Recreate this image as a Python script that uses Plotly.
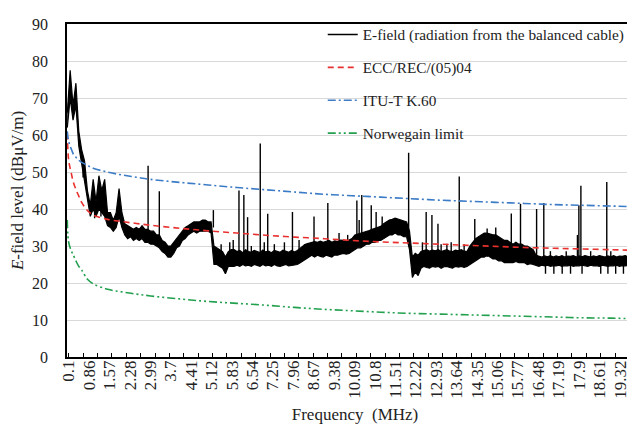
import plotly.graph_objects as go

# ---------------- data ----------------
# E-field measured level (dBuV/m): lower and upper edge of the noisy trace,
# read every 0.1 MHz from 0.1 to 20.0 MHz
EFIELD_LO = [
    62, 70, 64, 68, 57, 52, 48, 42, 38, 40,
    38, 40, 39, 38, 35.5, 35, 34, 35, 38, 35,
    33, 32, 32.5, 31.5, 32, 31.5, 32, 31, 31, 30.5,
    30.5, 30, 29.5, 28.5, 28, 27, 27, 28, 29.5, 30,
    31.5, 32, 33, 33.5, 34, 33.5, 34, 34, 34, 34,
    33.5, 25, 25, 24.5, 24, 22.5, 24.5, 24.5, 24.5, 24.8,
    24.5, 25, 24.6, 24.8, 24.5, 25, 24.7, 24.5, 25, 24.6,
    24.8, 24.5, 25, 24.6, 24.5, 24.8, 25, 24.6, 24.7, 25,
    25, 25.5, 26, 26.5, 27, 27.5, 27, 27.5, 27.2, 27,
    27.5, 27.3, 27, 27.6, 27.5, 27.8, 28, 27.8, 28, 28.5,
    29, 29.5, 29.5, 30, 30.5, 30.5, 31, 31, 31.5, 31.5,
    32, 32.5, 33, 33, 33.5, 33, 33, 32.5, 32.5, 29,
    21.5, 23, 22, 24, 24.5, 24.2, 24, 24.5, 24.3, 24.5,
    24, 24.4, 24.5, 24.2, 24, 24.5, 24.3, 24.5, 24.2, 24.5,
    25, 25.5, 26, 26.5, 27, 27, 27.5, 27, 26.5, 26.5,
    26, 26, 25.5, 25.5, 25.5, 25.5, 25.8, 25.5, 25.5, 25.5,
    25, 25.2, 25, 24.8, 24.5, 24.8, 24.6, 24.8, 24.5, 24.7,
    24.6, 24.8, 24.5, 24.7, 24.6, 24.8, 24.5, 24.7, 24.6, 24.8,
    24.7, 24.5, 24.8, 24.6, 24.7, 24.5, 24.8, 24.6, 24.5, 24.7,
    24.6, 24.8, 24.5, 24.7, 24.6, 24.8, 24.5, 24.7, 24.6, 24.8,
]
EFIELD_HI = [
    66, 77.5, 68, 74, 61, 56, 53, 45, 41, 48,
    42, 49, 45, 48, 39, 39, 37, 39, 45.5, 39,
    36, 35.5, 35, 34.5, 35, 34.5, 35.5, 34.5, 34.5, 34,
    34, 33, 33, 31.5, 31, 30, 30, 31, 32, 33,
    34, 35, 35.5, 36, 36.5, 36.5, 36.5, 37, 37, 36.5,
    36.5, 30, 29.5, 29, 28.5, 27, 28.5, 29, 29, 28.5,
    28.8, 28.2, 29, 28.5, 28.3, 28.8, 28.5, 28.2, 28.9, 28.4,
    28.6, 28.2, 28.8, 28.5, 28.3, 28.9, 28.6, 28.3, 28.8, 28.4,
    28.8, 29.5, 30, 30.5, 30.8, 31, 31.2, 31, 31.3, 31,
    31.2, 31.5, 31, 31.4, 31.2, 31.6, 31.5, 31.3, 31.6, 32,
    33, 33.2, 33.5, 33.8, 34, 34.2, 34.5, 34.8, 35, 35.3,
    36, 36.5, 37, 37.2, 37.5, 37.3, 37, 36.8, 36.5, 34,
    27, 28, 27.5, 28.5, 28.8, 29, 28.6, 28.9, 28.7, 29,
    28.5, 28.8, 29, 28.6, 28.5, 28.9, 28.7, 29, 28.6, 28.5,
    30, 31, 32, 32.5, 33, 33.5, 33.5, 33.2, 33, 33,
    32.5, 32, 31.5, 31.5, 31, 30.5, 31, 30.5, 30.5, 30,
    30, 29.5, 29, 27.5, 27.2, 27, 27.3, 27.1, 27.4, 27,
    27.3, 27.1, 27.4, 27, 27.3, 27.2, 27.4, 27, 27.3, 27.1,
    27.4, 27.2, 27, 27.3, 27.1, 27.4, 27.2, 27, 27.3, 27.1,
    27.4, 27, 27.3, 27.2, 27.4, 27.1, 27.3, 27, 27.2, 27.3,
]
FREQ = [round(0.1 * (i + 1), 1) for i in range(len(EFIELD_LO))]

# narrow emission spikes: frequency (MHz), level at foot, level at tip
SPIKE_FREQ = [2.91, 3.30, 5.18, 5.87, 6.07, 6.24, 6.37, 6.81, 7.07, 7.93,
              8.16, 8.68, 9.16, 10.17, 10.25, 10.34, 10.67, 10.84, 11.05, 11.97,
              12.58, 12.78, 12.99, 13.30, 13.73, 14.27, 14.70, 15.00, 15.54, 15.86,
              16.42, 16.67, 17.84, 17.89, 17.96, 18.86,
              16.73, 17.02, 17.31, 17.60, 18.00, 18.65, 18.90, 19.17, 19.44, 19.87,
              5.45, 5.75, 6.50, 6.95, 7.30, 7.65, 8.35, 12.45, 13.10, 13.45, 13.90,
              16.90, 17.45, 18.30, 19.00, 19.60, 9.55, 9.85, 1.05, 1.27, 0.65]
SPIKE_FOOT = [33, 31, 35, 26, 26, 26, 26, 26, 26, 26,
              26, 28, 28, 30, 30, 30, 31, 31, 32, 33,
              25, 25, 25, 25, 25, 27, 27, 27, 26, 26,
              25.5, 25.5, 25.5, 25.5, 25.5, 25.5,
              25, 25, 25, 25, 25, 25, 25, 25, 25, 25,
              27, 27, 27, 27, 27, 27, 27, 27, 27, 27, 27,
              26, 26, 26, 26, 26, 29, 29, 41, 42, 52]
SPIKE_TIP = [51.7, 44.8, 39.7, 31.6, 45, 43.8, 37.8, 57.7, 38.7, 39.2,
             31.6, 38, 41.6, 42.3, 37, 43.8, 41, 39.2, 38, 55.2,
             39.2, 38.4, 36, 30.6, 48.8, 37.3, 34.7, 35, 38.8, 41.4,
             40, 41.6, 33, 41, 46.3, 47.3,
             22.5, 22.5, 22.5, 22.5, 22.5, 22.5, 22.5, 22.5, 22.5, 22.5,
             30.5, 31, 30, 31, 30.5, 31, 30.5, 31, 30.5, 31, 30.5,
             28.6, 28.6, 28.6, 28.6, 28.8, 33.5, 33, 37.5, 38, 48.5]

# limit curves (dBuV/m)
LIM_FREQ = [0.1, 0.12, 0.15, 0.2, 0.25, 0.3, 0.4, 0.5, 0.6, 0.8, 1.0, 1.5, 2, 2.5, 3, 4, 5, 6, 7, 8,
            9, 10, 11, 12, 13, 14, 15, 16, 17, 18, 19, 20]
ECC = [60.5, 56, 53, 51, 49.3, 47.5, 45.3, 43.5, 41.8, 39.6, 38.4, 37.2, 36.6, 36.1, 35.6, 34.8,
       34.1, 33.5, 32.9, 32.4, 32, 31.5, 31.1, 30.8, 30.5, 30.2, 29.9, 29.6, 29.4, 29.2, 29, 28.8]
ITU = [61, 59.5, 58.3, 57, 56, 55, 54, 53.2, 52.6, 51.8, 51, 50, 49.2, 48.6, 48, 47.2,
       46.5, 45.8, 45.2, 44.6, 44, 43.6, 43.2, 42.8, 42.4, 42.1, 41.8, 41.5, 41.2, 41, 40.8, 40.6]
NOR = [37, 33, 31, 29.5, 28.5, 27.7, 26, 24.5, 23.5, 21, 19.8, 18.3, 17.6, 17, 16.5, 15.7,
       15, 14.5, 14, 13.4, 12.9, 12.5, 12.1, 11.8, 11.6, 11.4, 11.2, 11, 10.8, 10.6, 10.5, 10.3]

TICK_VALS = [0.15, 0.86, 1.57, 2.28, 2.99, 3.7, 4.41, 5.12, 5.83, 6.54, 7.25, 7.96, 8.67, 9.38,
             10.09, 10.8, 11.51, 12.22, 12.93, 13.64, 14.35, 15.06, 15.77, 16.48, 17.19, 17.9,
             18.61, 19.32]
TICK_TEXT = ["0.1", "0.86", "1.57", "2.28", "2.99", "3.7", "4.41", "5.12", "5.83", "6.54", "7.25",
             "7.96", "8.67", "9.38", "10.09", "10.8", "11.51", "12.22", "12.93", "13.64", "14.35",
             "15.06", "15.77", "16.48", "17.19", "17.9", "18.61", "19.32"]

FONT = "Liberation Serif"
TXT = "#222222"

fig = go.Figure()
# noisy band: lower edge, then upper edge filled down to it
fig.add_trace(go.Scatter(x=FREQ, y=EFIELD_LO, mode="lines", showlegend=False, legendgroup="e",
                         line=dict(color="black", width=1.2)))
fig.add_trace(go.Scatter(x=FREQ, y=EFIELD_HI, mode="lines", showlegend=False, legendgroup="e",
                         fill="tonexty", fillcolor="black", line=dict(color="black", width=1.2)))
sx, sy = [], []
for f, a, b in zip(SPIKE_FREQ, SPIKE_FOOT, SPIKE_TIP):
    sx += [f, f, None]
    sy += [a, b, None]
fig.add_trace(go.Scatter(x=sx, y=sy, mode="lines", name="E-field (radiation from the balanced cable)",
                         legendgroup="e", line=dict(color="black", width=1.4)))
fig.add_trace(go.Scatter(x=LIM_FREQ, y=ECC, mode="lines", name="ECC/REC/(05)04", legendgroup="r",
                         line=dict(color="#e8312f", width=1.6, dash="6px,4px", shape="spline")))
fig.add_trace(go.Scatter(x=LIM_FREQ, y=ITU, mode="lines", name="ITU-T K.60", legendgroup="b",
                         line=dict(color="#3c7cc6", width=1.6, dash="8px,3px,2px,3px", shape="spline")))
fig.add_trace(go.Scatter(x=LIM_FREQ, y=NOR, mode="lines", name="Norwegain limit", legendgroup="g",
                         line=dict(color="#22a04e", width=1.6, dash="8px,3px,2px,3px,2px,3px", shape="spline")))

fig.update_layout(
    width=635, height=426,
    margin=dict(l=59, r=0, t=16, b=77),
    paper_bgcolor="white", plot_bgcolor="white",
    font=dict(family=FONT, size=16, color=TXT),
    showlegend=True,
    legend=dict(x=0.444, xanchor="left", y=1.018, yanchor="top", bgcolor="rgba(0,0,0,0)",
                font=dict(family=FONT, size=15.3, color=TXT), traceorder="grouped",
                tracegroupgap=10, itemwidth=30),
)
fig.update_xaxes(range=[0.09, 20.12], tickmode="array", tickvals=TICK_VALS, ticktext=TICK_TEXT,
                 tickangle=-90, ticks="inside", ticklen=0, tickcolor="rgba(0,0,0,0)",
                 ticklabelstandoff=-5,
                 showgrid=False, zeroline=False,
                 showline=True, linecolor="black", linewidth=1.5, mirror=True,
                 tickfont=dict(family=FONT, size=17, color=TXT),
                 minor=dict(ticks="inside", tick0=0.15, dtick=0.5, ticklen=4, tickcolor="black", showgrid=False),
                 title=dict(text="Frequency  (MHz)", font=dict(family=FONT, size=17, color=TXT), standoff=10))
fig.update_yaxes(range=[0, 90], dtick=10, showgrid=True, gridcolor="#d9d9d9", gridwidth=1,
                 zeroline=False, showline=True, linecolor="black", linewidth=1.5,
                 ticks="", ticklabelstandoff=14,
                 tickfont=dict(family=FONT, size=16, color=TXT),
                 title=dict(text="<i>E</i>-field level (dBμV/m)", font=dict(family=FONT, size=17, color=TXT), standoff=4))

fig.write_html("out.html")
